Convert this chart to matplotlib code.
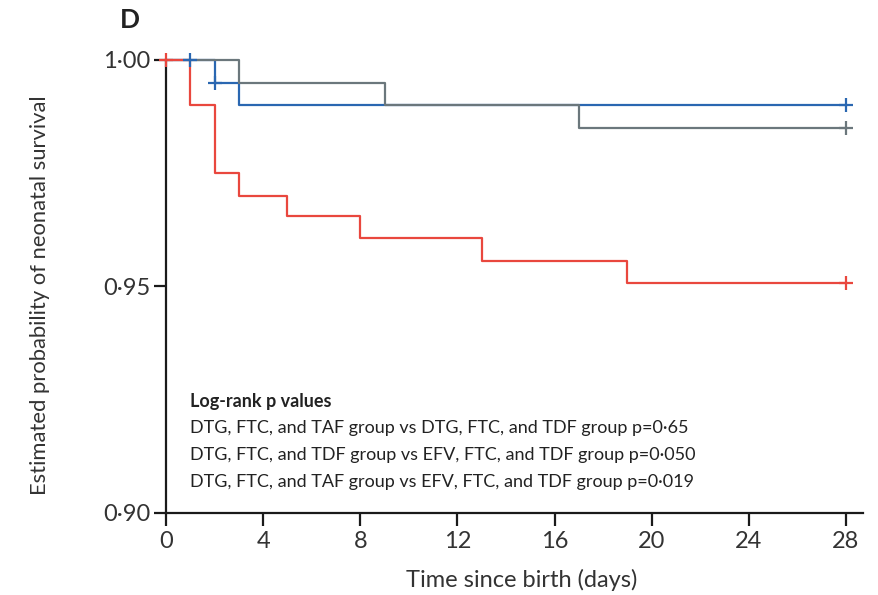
import matplotlib
matplotlib.use("Agg")
import matplotlib.pyplot as plt
from matplotlib.ticker import FixedLocator

plt.rcParams['font.family'] = ['Lato', 'DejaVu Sans']

# Kaplan-Meier step data (time in days, survival probability)
taf_times = [0, 2, 3, 28]
taf_surv = [1.000, 0.995, 0.990, 0.990]
taf_cens_t = [1, 2, 28]
taf_cens_s = [1.000, 0.995, 0.990]

tdf_times = [0, 3, 9, 17, 28]
tdf_surv = [1.000, 0.995, 0.990, 0.985, 0.985]
tdf_cens_t = [28]
tdf_cens_s = [0.985]

efv_times = [0, 1, 2, 3, 5, 8, 13, 19, 28]
efv_surv = [1.000, 0.990, 0.975, 0.970, 0.9655, 0.9606, 0.9557, 0.9507, 0.9507]
efv_cens_t = [0, 28]
efv_cens_s = [1.000, 0.9507]

x_ticks = [0, 4, 8, 12, 16, 20, 24, 28]
y_ticks = [0.90, 0.95, 1.00]
y_tick_labels = ["0·90", "0·95", "1·00"]

legend_title = "Log-rank p values"
legend_lines = [
    "DTG, FTC, and TAF group vs DTG, FTC, and TDF group p=0·65",
    "DTG, FTC, and TDF group vs EFV, FTC, and TDF group p=0·050",
    "DTG, FTC, and TAF group vs EFV, FTC, and TDF group p=0·019",
]

c_blue = "#2a67b1"
c_gray = "#6b777c"
c_red = "#e9473e"

fig = plt.figure(figsize=(8.79, 5.95), dpi=100)
ax = fig.add_axes([166/879, (595-512.7)/595, (863-166)/879, (512.7-60)/595])

lw = 1.6
ax.step(taf_times, taf_surv, where='post', color=c_blue, lw=lw, clip_on=False, zorder=3)
ax.step(tdf_times, tdf_surv, where='post', color=c_gray, lw=lw, clip_on=False, zorder=4)
ax.step(efv_times, efv_surv, where='post', color=c_red, lw=lw, clip_on=False, zorder=5)

ms = 10
mew = 1.6
ax.plot(taf_cens_t, taf_cens_s, ls='none', marker='+', ms=ms, mew=mew, color=c_blue, clip_on=False, zorder=6)
ax.plot(tdf_cens_t, tdf_cens_s, ls='none', marker='+', ms=ms, mew=mew, color=c_gray, clip_on=False, zorder=6)
ax.plot(efv_cens_t, efv_cens_s, ls='none', marker='+', ms=ms, mew=mew, color=c_red, clip_on=False, zorder=7)

ax.set_xlim(0, 28.7)
ax.set_ylim(0.90, 1.00)
ax.xaxis.set_major_locator(FixedLocator(x_ticks))
ax.set_xticklabels([str(t) for t in x_ticks])
ax.yaxis.set_major_locator(FixedLocator(y_ticks))
ax.set_yticklabels(y_tick_labels)

for s in ['top', 'right']:
    ax.spines[s].set_visible(False)
for s in ['left', 'bottom']:
    ax.spines[s].set_linewidth(1.6)
    ax.spines[s].set_color("#1a1a1a")

ax.tick_params(axis='both', direction='out', length=9, width=1.6, color="#1a1a1a",
               labelsize=17, labelcolor="#333333")
ax.tick_params(axis='x', pad=4)
ax.tick_params(axis='y', pad=2)

ax.set_xlabel("Time since birth (days)", fontsize=17, color="#333333")
ax.xaxis.set_label_coords(0.51, -0.125)
ax.set_ylabel("Estimated probability of neonatal survival", fontsize=15.8, color="#333333")
ax.yaxis.set_label_coords(-0.167, 0.48)

ax.text(0.035, 0.245, legend_title, transform=ax.transAxes, fontsize=13, fontweight='bold',
        color="#222222", va='center', ha='left')
for i, line in enumerate(legend_lines):
    ax.text(0.035, 0.245 - (i + 1) * 0.059, line, transform=ax.transAxes, fontsize=13,
            color="#222222", va='center', ha='left')

fig.text(120/879, 1 - 20/595, "D", fontsize=19, fontweight='bold', color="#222222",
         va='center', ha='left')

fig.savefig("out.png", dpi=100)
